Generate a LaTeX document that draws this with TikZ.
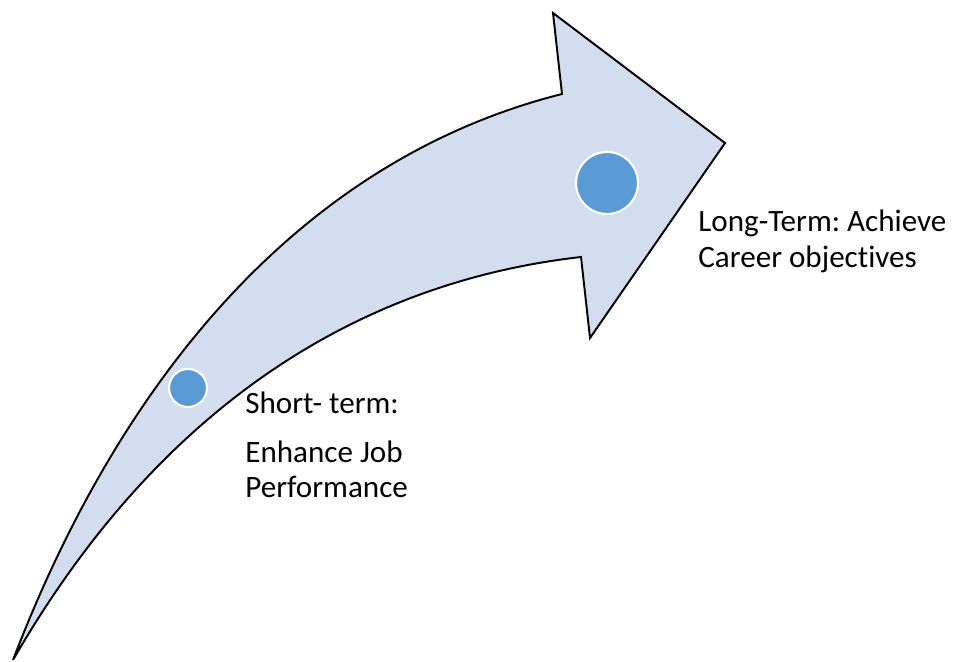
\documentclass[tikz,border=0pt]{standalone}
\usepackage{fontspec}
\setmainfont{Carlito}[Ligatures=NoCommon]
\frenchspacing
\definecolor{arrowfill}{HTML}{D2DEEF}
\definecolor{dotfill}{HTML}{5B9BD5}
\tikzset{
  dot/.style = {circle, fill=dotfill, draw=white, line width=1.2pt, inner sep=0pt},
  goal/.style = {anchor=base west, inner sep=0pt, font=\fontsize{17.7}{21}\selectfont}
}
\begin{document}
\begin{tikzpicture}[x=0.02cm, y=-0.02cm]
   \useasboundingbox (0,0) rectangle (956,662);
   % curved arrow
   \draw[fill=arrowfill, line width=1.1pt, line join=miter]
      (13,660) .. controls (120,380) and (300,160) .. (562,94)
      -- (553,13) -- (725,143) -- (590,338) -- (581,257)
      .. controls (360,282) and (160,405) .. (13,660) -- cycle;
   % milestones
   \node[dot, minimum size=0.76cm] (short) at (188,388) {};
   \node[dot, minimum size=1.24cm] (long) at (607,183) {};
   % goals
   \node[goal] (shortA) at (245,413) {Short- term:};
   \node[goal] (shortB) at (245,462) {Enhance Job};
   \node[goal] (shortC) at (245,497) {Performance};
   \node[goal] (longA) at (698,232) {Long-Term: Achieve};
   \node[goal] (longB) at (698,267) {Career objectives};
\end{tikzpicture}
\end{document}
